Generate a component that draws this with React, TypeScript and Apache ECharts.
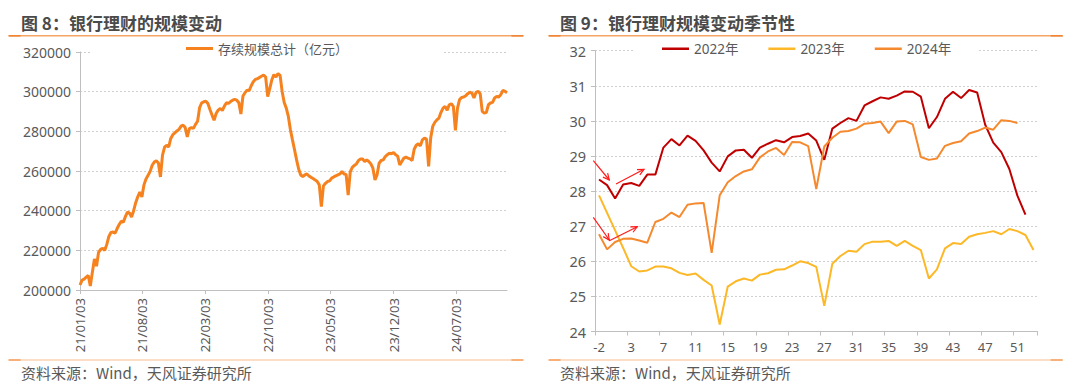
import React, { useEffect, useRef } from "react";
import * as echarts from "echarts";

// ---------------- Data: left chart (weekly, from 2021-01-03) ----------------
const leftTitle = "图 8：银行理财的规模变动";
const rightTitle = "图 9：银行理财规模变动季节性";
const sourceText = "资料来源：Wind，天风证券研究所";
const leftSeriesName = "存续规模总计（亿元）";
const leftStartDate = [2021, 0, 3];
const leftStepDays = 7;
const leftValues = [
  202500, 205000, 205500, 206500, 207300, 202000, 209000, 215700, 212000, 219000,
  220500, 221000, 220000, 223000, 227000, 229000, 229200, 228700, 231000, 233000,
  234700, 234200, 237000, 239300, 238800, 236800, 240000, 244000, 247000, 249400,
  246900, 253000, 256000, 257800, 259800, 262900, 264500, 265200, 264000, 257000,
  268000, 272000, 273000, 272100, 276400, 278300, 279200, 280200, 281000, 282600,
  283100, 281900, 277200, 281400, 281900, 281500, 283500, 285100, 292000, 294400,
  294900, 295200, 294000, 291000, 288200, 285600, 289000, 290700, 291500, 290500,
  292700, 294400, 294100, 295000, 295700, 296100, 295700, 294400, 288700, 297800,
  299500, 300800, 300500, 303000, 305000, 306200, 306500, 307200, 307800, 308400,
  307400, 297500, 301500, 306000, 308600, 307400, 309100, 308200, 300000, 294500,
  291700, 287500, 280800, 275700, 270700, 265600, 261000, 258000, 257200, 258000,
  258500, 257500, 256800, 256200, 255500, 254700, 253000, 242000, 252500, 253800,
  254700, 255000, 256400, 257000, 257500, 258000, 258500, 259700, 258500, 258300,
  247900, 259500, 261800, 262800, 263600, 265300, 266000, 266000, 264800, 265600,
  264800, 263600, 261400, 255500, 258000, 263900, 265300, 265600, 267300, 268200,
  269000, 268700, 269300, 268200, 267500, 263100, 264800, 266500, 267000, 266500,
  266100, 265300, 271000, 273000, 273700, 272700, 275700, 276600, 276100, 262300,
  276600, 282500, 284500, 285800, 286700, 289600, 291700, 292600, 290600, 293400,
  293900, 292600, 280500, 291700, 296000, 297100, 297300, 298000, 299000, 299700,
  299300, 296800, 299700, 300200, 299000, 290100, 289200, 289600, 293400, 294300,
  294600, 296800, 297600, 297300, 298500, 300700, 300200, 299500,
];
const leftTickDates = [
  [2021, 0, 3], [2021, 7, 3], [2022, 2, 3], [2022, 9, 3],
  [2023, 4, 3], [2023, 11, 3], [2024, 6, 3],
];
const leftYMin = 200000;
const leftYMax = 320000;
const leftYStep = 20000;

// ---------------- Data: right chart (week of year) ----------------
const weekLabels = [
  "-2", "-1", "1", "2", "3", "4", "5", "6", "7", "8", "9", "10", "11", "12", "13",
  "14", "15", "16", "17", "18", "19", "20", "21", "22", "23", "24", "25", "26",
  "27", "28", "29", "30", "31", "32", "33", "34", "35", "36", "37", "38", "39",
  "40", "41", "42", "43", "44", "45", "46", "47", "48", "49", "50", "51", "52", "53",
];
const seriesNames = ["2022年", "2023年", "2024年"];
const values2022 = [
  28.33, 28.17, 27.79, 28.19, 28.23, 28.15, 28.47, 28.47, 29.24, 29.48,
  29.30, 29.58, 29.43, 29.16, 28.81, 28.56, 28.99, 29.16, 29.18, 28.95,
  29.24, 29.35, 29.45, 29.39, 29.54, 29.57, 29.64, 29.44, 28.89, 29.78,
  29.94, 30.08, 30.00, 30.44, 30.56, 30.67, 30.63, 30.72, 30.84, 30.83,
  30.69, 29.79, 30.11, 30.63, 30.83, 30.65, 30.88, 30.81, 29.89, 29.38,
  29.11, 28.63, 27.87, 27.33,
];
const values2023 = [
  27.88, 27.38, 26.88, 26.38, 25.86, 25.71, 25.74, 25.85, 25.85, 25.80,
  25.67, 25.61, 25.65, 25.47, 25.31, 24.20, 25.28, 25.43, 25.51, 25.45,
  25.62, 25.66, 25.76, 25.77, 25.88, 26.00, 25.95, 25.84, 24.73, 25.93,
  26.15, 26.30, 26.27, 26.49, 26.56, 26.56, 26.58, 26.44, 26.58, 26.44,
  26.32, 25.51, 25.77, 26.37, 26.52, 26.49, 26.70, 26.77, 26.81, 26.86,
  26.77, 26.92, 26.86, 26.75, 26.32,
];
const values2024 = [
  26.77, 26.34, 26.55, 26.64, 26.65, 26.59, 26.53, 27.12, 27.21, 27.39,
  27.26, 27.61, 27.65, 27.66, 26.24, 27.88, 28.25, 28.43, 28.56, 28.62,
  28.96, 29.13, 29.23, 29.03, 29.40, 29.39, 29.28, 28.06, 29.27, 29.52,
  29.69, 29.71, 29.78, 29.92, 29.94, 29.98, 29.65, 29.98, 30.00, 29.90,
  28.97, 28.89, 28.93, 29.29, 29.37, 29.42, 29.64, 29.71, 29.81, 29.75,
  30.02, 30.00, 29.94,
];
const rightYMin = 24;
const rightYMax = 32;
const rightYStep = 1;

// ---------------- Styling ----------------
const FONT = "'Noto Sans', 'Noto Sans CJK SC', sans-serif";
const CJK = "'Noto Sans CJK SC', 'Noto Sans', sans-serif";
const LABEL = "#595959";
const AXIS = "#bfbfbf";
const GRID = "#d0d0d0";
const ORANGE = "#F5821F";
const C2022 = "#C00000";
const C2023 = "#FDB827";
const C2024 = "#F5892E";
const DAY = 86400000;

const pad = (n: number) => (n < 10 ? "0" + n : String(n));
const startMs = () => Date.UTC(leftStartDate[0], leftStartDate[1], leftStartDate[2]);
const dayOffset = (d: number[]) => Math.round((Date.UTC(d[0], d[1], d[2]) - startMs()) / DAY);
const fmtDay = (v: number) => {
  const d = new Date(startMs() + Math.round(v) * DAY);
  return `${String(d.getUTCFullYear()).slice(2)}/${pad(d.getUTCMonth() + 1)}/${pad(d.getUTCDate())}`;
};

function arrow(x1: number, y1: number, x2: number, y2: number) {
  const a = Math.atan2(y2 - y1, x2 - x1);
  const L = 7;
  const w = 0.45;
  const p1 = [x2 - L * Math.cos(a - w), y2 - L * Math.sin(a - w)];
  const p2 = [x2 - L * Math.cos(a + w), y2 - L * Math.sin(a + w)];
  const st = { stroke: "#ff1a1a", lineWidth: 1.2, fill: null };
  return [
    { type: "line", z: 100, shape: { x1, y1, x2, y2 }, style: st },
    { type: "polyline", z: 100, shape: { points: [p1, [x2, y2], p2] }, style: st },
  ];
}

function rule(x1: number, x2: number, y: number, main: string, end: string) {
  return [
    { type: "line", z: 50, shape: { x1, y1: y, x2, y2: y }, style: { stroke: main, lineWidth: 1.6 } },
    { type: "line", z: 51, shape: { x1, y1: y, x2: x1 + 12, y2: y }, style: { stroke: end, lineWidth: 1.6 } },
    { type: "line", z: 51, shape: { x1: x2 - 12, y1: y, x2, y2: y }, style: { stroke: end, lineWidth: 1.6 } },
  ];
}

function text(x: number, y: number, s: string, font: string, fill: string) {
  return {
    type: "text",
    z: 60,
    x,
    y,
    style: { text: s, font, fill, align: "left", verticalAlign: "middle" },
  };
}

export default function App() {
  const ref = useRef<HTMLDivElement>(null);

  useEffect(() => {
    if (!ref.current) return;
    const chart = echarts.init(ref.current, undefined, { renderer: "svg" });

    const leftData = leftValues.map((v, i) => [i * leftStepDays, v]);
    const xEnd = (leftValues.length - 1) * leftStepDays;
    const tickVals = leftTickDates.map(dayOffset);

    const option: any = {
      animation: false,
      backgroundColor: "#ffffff",
      textStyle: { fontFamily: FONT },
      grid: [
        { left: 80, top: 52, width: 427, height: 238 },
        { left: 595, top: 50.7, width: 442.5, height: 280.8 },
      ],
      legend: [
        {
          data: [leftSeriesName],
          left: 90,
          top: 40,
          padding: [2, 96, 2, 96],
          backgroundColor: "#ffffff",
          icon: "rect",
          itemWidth: 27,
          itemHeight: 3,
          textStyle: { fontFamily: CJK, fontSize: 13, color: LABEL },
        },
        {
          data: seriesNames,
          left: 634,
          top: 40,
          padding: [2, 28, 2, 28],
          itemGap: 30,
          backgroundColor: "#ffffff",
          icon: "rect",
          itemWidth: 27,
          itemHeight: 2.5,
          textStyle: { fontFamily: FONT, fontSize: 13.5, color: LABEL },
        },
      ],
      xAxis: [
        {
          type: "value",
          gridIndex: 0,
          min: 0,
          max: xEnd,
          axisLine: { show: true, onZero: false, lineStyle: { color: AXIS, width: 1 } },
          axisTick: { show: true, length: 4, lineStyle: { color: AXIS }, customValues: tickVals },
          axisLabel: {
            customValues: tickVals,
            rotate: 90,
            margin: 8,
            fontSize: 13,
            color: LABEL,
            formatter: (v: number) => fmtDay(v),
          },
          splitLine: { show: false },
        },
        {
          type: "category",
          gridIndex: 1,
          data: weekLabels,
          boundaryGap: true,
          axisLine: { show: true, lineStyle: { color: AXIS, width: 1 } },
          axisTick: { show: true, interval: 3, length: 4, lineStyle: { color: AXIS } },
          axisLabel: { interval: 3, margin: 9, fontSize: 13, color: LABEL },
          splitLine: { show: false },
        },
      ],
      yAxis: [
        {
          type: "value",
          gridIndex: 0,
          min: leftYMin,
          max: leftYMax,
          interval: leftYStep,
          axisLine: { show: true, lineStyle: { color: AXIS, width: 1 } },
          axisTick: { show: true, length: 4, lineStyle: { color: AXIS } },
          axisLabel: { margin: 9, fontSize: 14, color: LABEL, formatter: (v: number) => String(v) },
          splitLine: { show: true, lineStyle: { color: GRID, type: [2, 2], width: 1 } },
        },
        {
          type: "value",
          gridIndex: 1,
          min: rightYMin,
          max: rightYMax,
          interval: rightYStep,
          axisLine: { show: true, lineStyle: { color: AXIS, width: 1 } },
          axisTick: { show: true, length: 4, lineStyle: { color: AXIS } },
          axisLabel: { margin: 9, fontSize: 14.5, color: LABEL },
          splitLine: { show: true, lineStyle: { color: GRID, type: [2, 2], width: 1 } },
        },
      ],
      series: [
        {
          name: leftSeriesName,
          type: "line",
          xAxisIndex: 0,
          yAxisIndex: 0,
          data: leftData,
          showSymbol: false,
          symbol: "none",
          lineStyle: { width: 3, color: ORANGE },
          itemStyle: { color: ORANGE },
        },
        {
          name: seriesNames[0],
          type: "line",
          xAxisIndex: 1,
          yAxisIndex: 1,
          data: values2022,
          symbol: "none",
          lineStyle: { width: 2, color: C2022 },
          itemStyle: { color: C2022 },
        },
        {
          name: seriesNames[1],
          type: "line",
          xAxisIndex: 1,
          yAxisIndex: 1,
          data: values2023,
          symbol: "none",
          lineStyle: { width: 2, color: C2023 },
          itemStyle: { color: C2023 },
        },
        {
          name: seriesNames[2],
          type: "line",
          xAxisIndex: 1,
          yAxisIndex: 1,
          data: values2024,
          symbol: "none",
          lineStyle: { width: 2, color: C2024 },
          itemStyle: { color: C2024 },
        },
      ],
      graphic: [
        text(21, 22.5, leftTitle, `bold 17px ${CJK}`, "#4a4a4a"),
        text(560, 22.5, rightTitle, `bold 17px ${CJK}`, "#4a4a4a"),
        ...rule(8.6, 523.4, 35.8, "#F5A566", "#F08535"),
        ...rule(548.6, 1062.7, 35.8, "#F5A566", "#F08535"),
        ...rule(8.6, 523.4, 360, "#FBD3B4", "#F5A566"),
        ...rule(548.6, 1062.7, 360, "#FBD3B4", "#F5A566"),
        text(21, 372, sourceText, `15px ${CJK}`, LABEL),
        text(560, 372, sourceText, `15px ${CJK}`, LABEL),
        ...arrow(593.3, 160.7, 609.3, 180),
        ...arrow(616, 184, 644, 169.3),
        ...arrow(593.3, 217.3, 609.3, 240),
        ...arrow(609.3, 240.7, 637.3, 226.7),
      ],
    };

    chart.setOption(option);
    return () => chart.dispose();
  }, []);

  return (
    <div
      ref={ref}
      style={{ position: "fixed", left: 0, top: 0, width: 1080, height: 386, background: "#fff" }}
    />
  );
}
